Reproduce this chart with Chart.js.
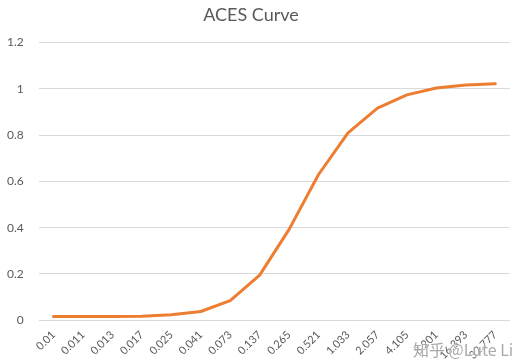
<!DOCTYPE html>
<html lang="en">
<head>
    <meta charset="UTF-8">
    <title>ACES Curve</title>
    <script src="https://cdn.jsdelivr.net/npm/chart.js"></script>
    <style>
        html, body { margin: 0; padding: 0; background: #fff; overflow: hidden; }
        #wrap { position: relative; width: 514px; height: 362px; overflow: hidden; }
        #acesChart { position: absolute; left: -8px; top: 0; }
        #mark {
            position: absolute; left: 413px; top: 337px;
            font-family: "Noto Sans CJK SC", sans-serif; font-size: 16px;
            color: rgba(140, 140, 140, 0.75);
            text-shadow: 0 0 2px #fff, 0 0 2px #fff;
            white-space: nowrap;
        }
    </style>
</head>
<body>
    <div id="wrap">
        <canvas id="acesChart" width="522" height="362"></canvas>
        <div id="mark">知乎 @Lute Li</div>
    </div>

    <script>
        // input exposure values (category labels)
        const inputs = ['0.01', '0.011', '0.013', '0.017', '0.025', '0.041', '0.073', '0.137',
                        '0.265', '0.521', '1.033', '2.057', '4.105', '8.201', '16.393', '32.777'];
        // tone mapped output
        const outputs = [0.016, 0.016, 0.016, 0.017, 0.024, 0.038, 0.085, 0.195,
                         0.393, 0.63, 0.81, 0.917, 0.974, 1.004, 1.017, 1.022];
        const yTicks = [0, 0.2, 0.4, 0.6, 0.8, 1, 1.2];

        const grey = '#595959';
        const fontFamily = 'Lato, "Open Sans", sans-serif';

        const ctx = document.getElementById('acesChart').getContext('2d');
        const acesChart = new Chart(ctx, {
            type: 'line',
            data: {
                labels: inputs,
                datasets: [{
                    label: 'ACES',
                    data: outputs,
                    borderColor: '#ED7D31',
                    borderWidth: 3,
                    borderCapStyle: 'round',
                    borderJoinStyle: 'round',
                    pointRadius: 0,
                    tension: 0,
                    fill: false
                }]
            },
            options: {
                responsive: false,
                animation: false,
                layout: { padding: { top: 0, right: 4, left: 0, bottom: 0 } },
                scales: {
                    x: {
                        offset: true,
                        grid: { display: false },
                        border: { display: false },
                        ticks: {
                            color: grey,
                            font: { family: fontFamily, size: 11 },
                            minRotation: 45,
                            maxRotation: 45,
                            autoSkip: false,
                            padding: 0
                        }
                    },
                    y: {
                        min: 0,
                        max: 1.2,
                        afterBuildTicks: (axis) => {
                            axis.ticks = yTicks.map(v => ({ value: v }));
                        },
                        grid: { color: '#d9d9d9', lineWidth: 1, drawTicks: false },
                        border: { display: false },
                        ticks: {
                            color: grey,
                            font: { family: fontFamily, size: 12 },
                            padding: 15,
                            callback: (v) => String(Math.round(v * 10) / 10)
                        }
                    }
                },
                plugins: {
                    legend: { display: false },
                    tooltip: { enabled: false },
                    title: {
                        display: true,
                        text: 'ACES Curve',
                        color: grey,
                        font: { family: fontFamily, size: 18, weight: 'normal' },
                        padding: { top: 4, bottom: 17 }
                    }
                }
            }
        });
    </script>
</body>
</html>
